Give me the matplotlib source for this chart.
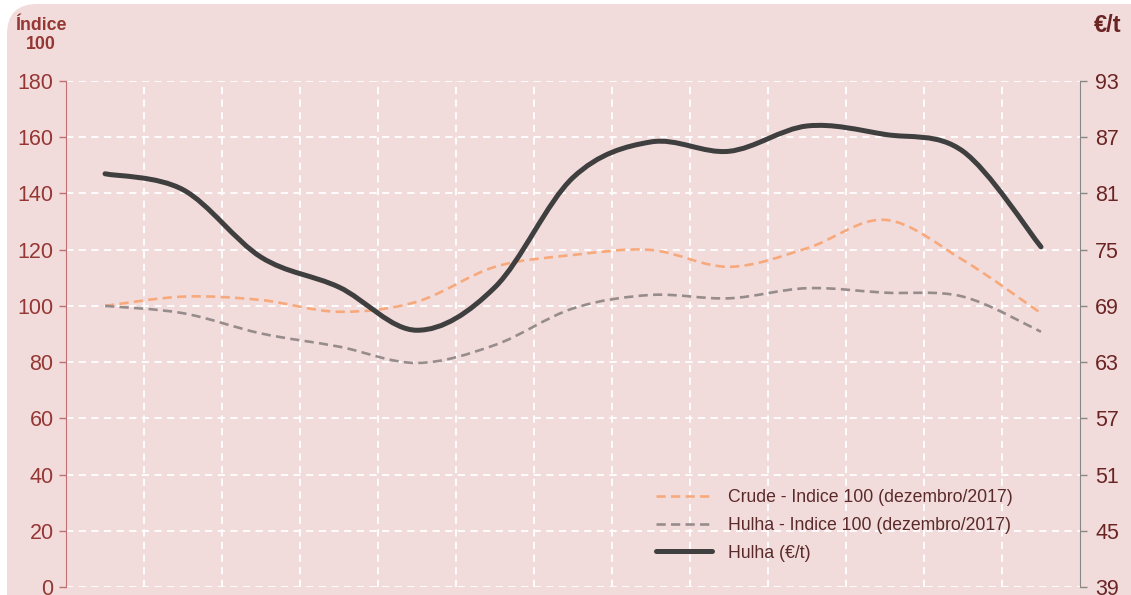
import matplotlib
matplotlib.use("Agg")
import matplotlib.pyplot as plt
from matplotlib.path import Path
from matplotlib.patches import PathPatch, FancyBboxPatch
from matplotlib.lines import Line2D
from matplotlib.transforms import IdentityTransform

plt.rcParams['font.family'] = ['Liberation Sans', 'DejaVu Sans']

# ---- data (13 months) ----
months = list(range(13))
crude_idx = [100, 103.3, 102.1, 97.9, 101.5, 113.9, 118.1, 119.9, 113.9, 120.5, 130.6, 116.3, 97.4]
hulha_idx = [100, 97.4, 90.2, 85.5, 79.7, 86.1, 99.1, 103.9, 102.7, 106.3, 104.7, 103.3, 90.8]
hulha_eur = [83.1, 81.4, 74.2, 71.0, 66.4, 71.0, 82.7, 86.5, 85.5, 88.2, 87.3, 85.5, 75.3]
left_ticks = [0, 20, 40, 60, 80, 100, 120, 140, 160, 180]
right_ticks = [39, 45, 51, 57, 63, 69, 75, 81, 87, 93]
labels = ['Crude - Indice 100 (dezembro/2017)', 'Hulha - Indice 100 (dezembro/2017)', 'Hulha (€/t)']

BG = '#f2dcdb'
RED = '#953735'
DARK = '#6b2424'
ORANGE = '#f7a97c'
GRAY = '#978c8c'
BLACK = '#3f3f3f'


def smooth_path(xs, ys):
    pts = list(zip(xs, ys))
    n = len(pts)
    verts = [pts[0]]
    codes = [Path.MOVETO]
    for i in range(n - 1):
        p0 = pts[i - 1] if i > 0 else pts[i]
        p1 = pts[i]
        p2 = pts[i + 1]
        p3 = pts[i + 2] if i + 2 < n else pts[i + 1]
        c1 = (p1[0] + (p2[0] - p0[0]) / 6, p1[1] + (p2[1] - p0[1]) / 6)
        c2 = (p2[0] - (p3[0] - p1[0]) / 6, p2[1] - (p3[1] - p1[1]) / 6)
        verts += [c1, c2, p2]
        codes += [Path.CURVE4] * 3
    return Path(verts, codes)


fig = plt.figure(figsize=(11.31, 5.95), dpi=100)
fig.patch.set_facecolor('white')
bg = FancyBboxPatch((7, -60), 1200, 651, boxstyle='round,pad=0,rounding_size=30',
                    transform=IdentityTransform(), facecolor=BG, edgecolor='none', zorder=-10)
fig.add_artist(bg)

ax = fig.add_axes([0.0584, 0.01345, 0.8965, 0.8504])
ax.set_facecolor('none')
ax.set_xlim(0, 13)
ax.set_ylim(0, 180)
ax.set_yticks(left_ticks)
ax.set_xticks(range(1, 13))
ax.tick_params(axis='x', length=0, labelbottom=False)
ax.tick_params(axis='y', colors='#c07070', labelcolor=RED, labelsize=15.5, length=5, width=1, pad=4)
ax.grid(True, color='white', linestyle=(0, (4, 3)), linewidth=1.3)
ax.set_axisbelow(True)
for s in ['top', 'right', 'bottom']:
    ax.spines[s].set_visible(False)
ax.spines['left'].set_color('#c07070')

ax2 = ax.twinx()
ax2.set_ylim(39, 93)
ax2.set_yticks(right_ticks)
ax2.tick_params(axis='y', colors='#888888', labelcolor=DARK, labelsize=15.5, length=5, width=1, pad=6)
for s in ['top', 'left', 'bottom']:
    ax2.spines[s].set_visible(False)
ax2.spines['right'].set_color('#888888')

xs = [m + 0.5 for m in months]
ax.add_patch(PathPatch(smooth_path(xs, crude_idx), facecolor='none', edgecolor=ORANGE,
                       linewidth=1.9, linestyle=(0, (3.5, 2)), zorder=3))
ax.add_patch(PathPatch(smooth_path(xs, hulha_idx), facecolor='none', edgecolor=GRAY,
                       linewidth=1.9, linestyle=(0, (3.5, 2)), zorder=3))
ax2.add_patch(PathPatch(smooth_path(xs, hulha_eur), facecolor='none', edgecolor=BLACK,
                        linewidth=3.6, capstyle='round', zorder=4))

handles = [Line2D([], [], color=ORANGE, lw=1.9, linestyle=(0, (3.5, 2))),
           Line2D([], [], color=GRAY, lw=1.9, linestyle=(0, (3.5, 2))),
           Line2D([], [], color=BLACK, lw=3.6, solid_capstyle='round')]
leg = ax2.legend(handles, labels, loc='lower left', bbox_to_anchor=(0.566, 0.019),
                 frameon=False, fontsize=12.7, handlelength=3.2, handletextpad=0.9,
                 labelspacing=0.6, labelcolor='#5a2a2a')

fig.text(0.036, 0.957, 'Índice', color=RED, fontsize=12.8, fontweight='bold', ha='center', va='center')
fig.text(0.036, 0.925, '100', color=RED, fontsize=12.8, fontweight='bold', ha='center', va='center')
fig.text(0.9795, 0.957, '€/t', color=DARK, fontsize=17, fontweight='bold', ha='center', va='center')

fig.savefig('out.png', dpi=100, facecolor=fig.get_facecolor())
